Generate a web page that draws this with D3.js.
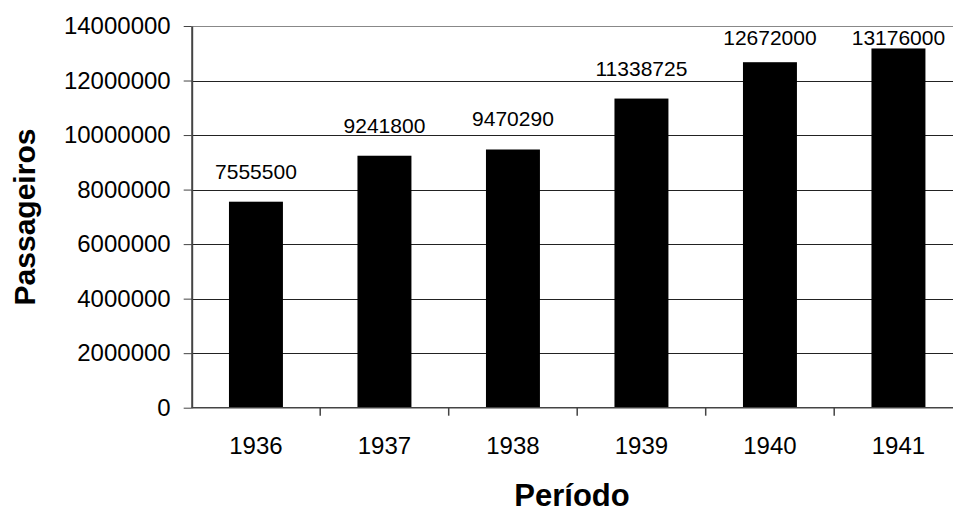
<!DOCTYPE html>
<html lang="pt">
<head>
<meta charset="UTF-8">
<title>Passageiros por período</title>
<script src="https://cdn.jsdelivr.net/npm/d3@7"></script>
<style>
  body { margin: 0; background: #fff; }
  svg { display: block; font-family: "Liberation Sans", Arial, sans-serif; }
</style>
</head>
<body>
<svg id="chart" width="953" height="512"></svg>
<script>
// dados
var anos = ["1936", "1937", "1938", "1939", "1940", "1941"];
var passageiros = [7555500, 9241800, 9470290, 11338725, 12672000, 13176000];
var yTicks = [0, 2000000, 4000000, 6000000, 8000000, 10000000, 12000000, 14000000];

var svg = d3.select("#chart");
var pLeft = 191.7, pRight = 962.7, pTop = 26, pBottom = 407.7;

var x = d3.scaleBand()
    .domain(anos)
    .range([pLeft, pRight])
    .paddingInner(0.58)
    .paddingOuter(0.29);

var y = d3.scaleLinear()
    .domain([0, 14000000])
    .range([pBottom, pTop]);

// linhas de grade
svg.append("g")
    .selectAll("line")
    .data(yTicks.slice(1))
    .enter()
    .append("line")
    .attr("x1", pLeft)
    .attr("x2", 953)
    .attr("y1", function(d) { return Math.round(y(d)) + 0.5; })
    .attr("y2", function(d) { return Math.round(y(d)) + 0.5; })
    .attr("stroke", function(d, i) { return i == yTicks.length - 2 ? "#888" : "#222"; })
    .attr("stroke-width", 1);

// barras
svg.append("g")
    .selectAll("rect")
    .data(anos)
    .enter()
    .append("rect")
    .attr("x", function(d) { return x(d); })
    .attr("width", x.bandwidth())
    .attr("y", function(d, i) { return y(passageiros[i]); })
    .attr("height", function(d, i) { return pBottom - y(passageiros[i]); })
    .attr("fill", "#000");

// rótulos de dados (presos dentro da área do gráfico)
svg.append("g")
    .selectAll("text")
    .data(anos)
    .enter()
    .append("text")
    .attr("x", function(d) { return x(d) + x.bandwidth() / 2; })
    .attr("y", function(d, i) { return Math.max(y(passageiros[i]) - 23, pTop + 19); })
    .attr("text-anchor", "middle")
    .attr("font-size", 21)
    .attr("fill", "#000")
    .text(function(d, i) { return passageiros[i]; });

// eixo y
var yAxis = svg.append("g")
    .attr("transform", "translate(" + pLeft + ",0)")
    .call(d3.axisLeft(y).tickValues(yTicks).tickFormat(d3.format("d")).tickSize(8).tickPadding(13).tickSizeOuter(0));
yAxis.select(".domain").attr("stroke", "#444").attr("stroke-width", 2);
yAxis.selectAll(".tick line").attr("stroke", "#444");
yAxis.selectAll(".tick text")
    .attr("font-size", 24)
    .attr("font-family", "Liberation Sans, Arial, sans-serif")
    .attr("fill", "#000");

// eixo x
var xAxis = svg.append("g")
    .attr("transform", "translate(0," + pBottom + ")")
    .call(d3.axisBottom(x).tickSize(0).tickSizeOuter(0));
xAxis.select(".domain").attr("stroke", "#444").attr("stroke-width", 1.5)
    .attr("d", "M" + pLeft + ",0H953");
xAxis.selectAll(".tick text")
    .attr("y", 46)
    .attr("dy", 0)
    .attr("font-size", 24)
    .attr("font-family", "Liberation Sans, Arial, sans-serif")
    .attr("fill", "#000");

// marcas entre categorias
svg.append("g")
    .selectAll("line")
    .data(anos)
    .enter()
    .append("line")
    .attr("x1", function(d) { return x(d) - x.step() * x.paddingInner() / 2 + x.step(); })
    .attr("x2", function(d) { return x(d) - x.step() * x.paddingInner() / 2 + x.step(); })
    .attr("y1", pBottom)
    .attr("y2", pBottom + 8)
    .attr("stroke", "#444")
    .attr("stroke-width", 1.5);

// títulos dos eixos
svg.append("text")
    .attr("transform", "translate(35,217) rotate(-90)")
    .attr("text-anchor", "middle")
    .attr("font-size", 30)
    .attr("font-weight", "bold")
    .text("Passageiros");

svg.append("text")
    .attr("x", 572)
    .attr("y", 506)
    .attr("text-anchor", "middle")
    .attr("font-size", 31)
    .attr("font-weight", "bold")
    .text("Período");
</script>
</body>
</html>
